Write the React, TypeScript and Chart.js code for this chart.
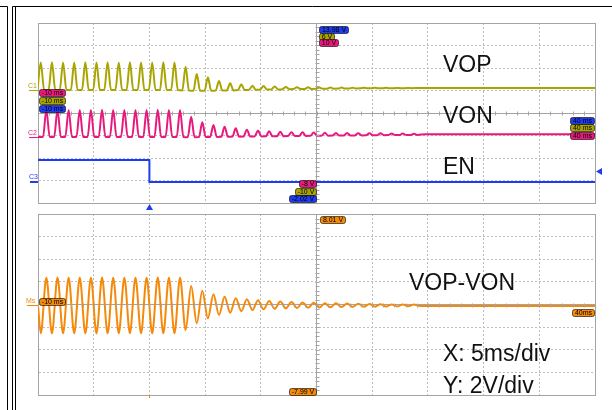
import React, { useEffect, useRef } from "react";
import { Chart, registerables } from "chart.js";

Chart.register(...registerables);

// ---------- axes (time in ms, screen volts at 2 V/div) ----------
const T_MIN = -10;
const T_MAX = 40;
const T_STEP = 5;
const V_MIN = -8;
const V_MAX = 8;
const V_STEP = 2;
const PERIOD_MS = 1.0;
const PULSE_HALF_WIDTH = 0.3; // fraction of a period from baseline to peak

// ---------- C1: VOP pulses (peak / baseline of each cycle) ----------
const vopPeaks = [4.5, 4.52, 4.5, 4.49, 4.51, 4.5, 4.52, 4.5, 4.51, 4.5, 4.49, 4.51, 4.5,
  4.12, 3.47, 3.17, 2.84, 2.64, 2.55, 2.43, 2.4, 2.35, 2.32, 2.3, 2.28, 2.27, 2.26, 2.26, 2.25, 2.25, 2.24, 2.24, 2.23, 2.23];
const vopTroughs = [2.04, 2.04, 2.04, 2.04, 2.04, 2.04, 2.04, 2.04, 2.04, 2.04, 2.04, 2.04, 2.04,
  2.0, 1.97, 1.97, 1.99, 2.01, 2.04, 2.06, 2.08, 2.1, 2.12, 2.13, 2.14, 2.15, 2.16, 2.17, 2.18, 2.19, 2.19, 2.2, 2.2, 2.21];
const VOP_SETTLE = 2.22;

// ---------- C2: VON pulses ----------
const vonPeaks = [0.27, 0.28, 0.27, 0.26, 0.27, 0.28, 0.27, 0.27, 0.26, 0.27, 0.28, 0.27, 0.27,
  -0.33, -0.83, -1.07, -1.22, -1.36, -1.48, -1.56, -1.62, -1.67, -1.7, -1.72, -1.74, -1.76, -1.77, -1.78, -1.79, -1.8, -1.81, -1.82, -1.83, -1.84];
const vonTroughs = [-2.13, -2.13, -2.13, -2.13, -2.13, -2.13, -2.13, -2.13, -2.13, -2.13, -2.13, -2.13, -2.13,
  -2.15, -2.14, -2.13, -2.12, -2.1, -2.09, -2.08, -2.07, -2.06, -2.05, -2.04, -2.03, -2.02, -2.01, -2.0, -1.99, -1.98, -1.97, -1.96, -1.95, -1.95];
const VON_SETTLE = -1.89;

// ---------- C3: EN ----------
const enLevels = [-4.18, -6.13];
const EN_FALL_MS = 0;

// ---------- Math: VOP-VON ----------
const diffPeaks = [2.37, 2.38, 2.37, 2.36, 2.37, 2.38, 2.37, 2.37, 2.36, 2.37, 2.38, 2.37, 2.37,
  1.64, 1.22, 0.9, 0.69, 0.55, 0.46, 0.37, 0.31, 0.26, 0.22, 0.18, 0.15, 0.12, 0.1, 0.08, 0.06, 0.04, 0.02, 0.01, 0.0, -0.01];
const diffTroughs = [-2.55, -2.56, -2.55, -2.54, -2.55, -2.56, -2.55, -2.55, -2.54, -2.55, -2.56, -2.55, -2.55,
  -2.26, -1.66, -1.22, -0.93, -0.72, -0.58, -0.49, -0.43, -0.38, -0.34, -0.31, -0.29, -0.27, -0.25, -0.23, -0.21, -0.2, -0.19, -0.18, -0.17, -0.16];
const DIFF_START = -0.09;
const DIFF_SETTLE = -0.13;

// ---------- texts ----------
const topLabels = ["VOP", "VON", "EN"];
const bottomLabels = ["VOP-VON", "X: 5ms/div", "Y: 2V/div"];
const channelNames = ["C1", "C2", "C3", "Ms"];
const leftTimeTag = "-10 ms";
const rightTimeTag = "40 ms";
const topScaleTags = ["13.98 V", "6 V", "10 V"];
const bottomScaleTags = ["-8 V", "-10 V", "-2.02 V"];
const mathTags = ["8.01 V", "-7.99 V", "40ms", "-10 ms"];

// ---------- colours ----------
const OLIVE = "#aaa400";
const PINK = "#e8197d";
const BLUE = "#1f3cef";
const ORANGE = "#f58a0a";
const GRID_SOLID = "#a4a4a4";
const GRID_DASH = "#bcbcbc";
const FONT = '"Liberation Sans", Arial, sans-serif';

type P = { x: number; y: number };

function pulseTrace(peaks: number[], troughs: number[], phase: number, settle: number): P[] {
  const pts: P[] = [];
  const hw = PULSE_HALF_WIDTH * PERIOD_MS;
  const first = T_MIN + phase + 0.25 * PERIOD_MS - hw;
  if (first > T_MIN) pts.push({ x: T_MIN, y: troughs[0] });
  peaks.forEach((pk, k) => {
    const tp = T_MIN + phase + (k + 0.25) * PERIOD_MS;
    pts.push({ x: tp - hw, y: troughs[k] });
    pts.push({ x: tp, y: pk });
    pts.push({ x: tp + hw, y: troughs[k] });
  });
  pts.push({ x: T_MIN + phase + (peaks.length + 0.25) * PERIOD_MS, y: settle });
  pts.push({ x: T_MAX, y: settle });
  return pts;
}

function sineTrace(peaks: number[], troughs: number[], start: number, settle: number): P[] {
  const pts: P[] = [{ x: T_MIN, y: start }];
  peaks.forEach((pk, k) => {
    const t0 = T_MIN + k * PERIOD_MS;
    pts.push({ x: t0 + 0.25 * PERIOD_MS, y: troughs[k] });
    pts.push({ x: t0 + 0.75 * PERIOD_MS, y: pk });
  });
  pts.push({ x: T_MIN + (peaks.length + 0.25) * PERIOD_MS, y: settle });
  pts.push({ x: T_MAX, y: settle });
  return pts;
}

function enTrace(): P[] {
  return [
    { x: T_MIN, y: enLevels[0] },
    { x: EN_FALL_MS, y: enLevels[0] },
    { x: EN_FALL_MS, y: enLevels[1] },
    { x: T_MAX, y: enLevels[1] },
  ];
}

function axis(min: number, max: number, step: number, center: number) {
  const isMajor = (v: number) => v === min || v === max || v === center;
  return {
    type: "linear",
    min,
    max,
    ticks: { display: false, stepSize: step },
    grid: {
      drawTicks: false,
      lineWidth: 1,
      color: (c: any) => (c.tick && !isMajor(c.tick.value) ? GRID_DASH : GRID_SOLID),
    },
    border: {
      display: true,
      color: GRID_SOLID,
      width: 1,
      dash: (c: any) => (c.type === "tick" && c.tick && !isMajor(c.tick.value) ? [2, 2] : []),
    },
  };
}

function drawTag(ctx: CanvasRenderingContext2D, text: string, x: number, y: number, align: "left" | "right", fill: string, fg: string) {
  ctx.save();
  ctx.font = "7px " + FONT;
  const w = Math.ceil(ctx.measureText(text).width) + 4;
  const h = 7;
  const left = Math.round(align === "left" ? x : x - w);
  const top = Math.round(y);
  ctx.beginPath();
  if ((ctx as any).roundRect) (ctx as any).roundRect(left + 0.5, top + 0.5, w, h, 2);
  else ctx.rect(left + 0.5, top + 0.5, w, h);
  ctx.fillStyle = fill;
  ctx.fill();
  ctx.strokeStyle = "rgba(0,0,0,0.6)";
  ctx.lineWidth = 1;
  ctx.stroke();
  ctx.fillStyle = fg;
  ctx.textAlign = "center";
  ctx.textBaseline = "middle";
  ctx.fillText(text, left + w / 2 + 0.5, top + h / 2 + 1);
  ctx.restore();
}

function centerTicks(ctx: CanvasRenderingContext2D, chart: any) {
  const { chartArea: a, scales } = chart;
  const xs = scales.x, ys = scales.y;
  const cy = Math.round(ys.getPixelForValue(0)) + 0.5;
  const cx = Math.round(xs.getPixelForValue((T_MIN + T_MAX) / 2)) + 0.5;
  ctx.save();
  ctx.strokeStyle = GRID_SOLID;
  ctx.lineWidth = 1;
  ctx.beginPath();
  for (let t = T_MIN; t <= T_MAX; t += T_STEP / 5) {
    const px = Math.round(xs.getPixelForValue(t)) + 0.5;
    ctx.moveTo(px, cy - 2);
    ctx.lineTo(px, cy + 2);
  }
  for (let v = V_MIN; v <= V_MAX + 1e-9; v += V_STEP / 5) {
    const py = Math.round(ys.getPixelForValue(v)) + 0.5;
    ctx.moveTo(cx - 2, py);
    ctx.lineTo(cx + 2, py);
  }
  ctx.stroke();
  ctx.restore();
  return { cx, cy, a };
}

function channelMarker(ctx: CanvasRenderingContext2D, name: string, color: string, left: number, right: number, py: number, width: number) {
  ctx.save();
  ctx.strokeStyle = color;
  ctx.lineWidth = width;
  ctx.beginPath();
  ctx.moveTo(left, py);
  ctx.lineTo(right, py);
  ctx.stroke();
  ctx.fillStyle = color;
  ctx.font = "7px " + FONT;
  ctx.textAlign = "left";
  ctx.textBaseline = "alphabetic";
  ctx.fillText(name, left - 1, py - 3);
  ctx.restore();
}

function bigText(ctx: CanvasRenderingContext2D, text: string, x: number, y: number) {
  ctx.save();
  ctx.fillStyle = "#111";
  ctx.font = "23px " + FONT;
  ctx.textAlign = "left";
  ctx.textBaseline = "alphabetic";
  ctx.fillText(text, x, y);
  ctx.restore();
}

const topPlugin = {
  id: "topDecor",
  afterDraw(chart: any) {
    const ctx: CanvasRenderingContext2D = chart.ctx;
    const { cx, cy, a } = centerTicks(ctx, chart);
    const xs = chart.scales.x, ys = chart.scales.y;

    // outer frame
    ctx.save();
    ctx.strokeStyle = "#000";
    ctx.lineWidth = 1;
    ctx.beginPath();
    ctx.moveTo(0, 6.5); ctx.lineTo(7.5, 6.5); ctx.lineTo(7.5, 410);
    ctx.moveTo(612, 6.5); ctx.lineTo(12.5, 6.5); ctx.lineTo(12.5, 410);
    ctx.moveTo(15.5, 6.5); ctx.lineTo(15.5, 410);
    ctx.stroke();
    ctx.restore();

    // channel ground markers
    const y1 = Math.round(ys.getPixelForValue(vopTroughs[0])) + 0.5;
    const y2 = Math.round(ys.getPixelForValue(vonTroughs[0])) + 0.5;
    const y3 = Math.round(ys.getPixelForValue(enLevels[1]));
    channelMarker(ctx, channelNames[0], OLIVE, a.left - 9, a.left, y1, 1);
    channelMarker(ctx, channelNames[1], PINK, a.left - 9, a.left, y2, 1);
    channelMarker(ctx, channelNames[2], BLUE, a.left - 8, a.left, y3, 2);

    // time tags (left)
    drawTag(ctx, leftTimeTag, a.left + 1, y1 - 1.5, "left", PINK, "#000");
    drawTag(ctx, leftTimeTag, a.left + 1, y1 + 6.5, "left", OLIVE, "#000");
    drawTag(ctx, leftTimeTag, a.left + 1, y1 + 14.5, "left", BLUE, "#000");
    // time tags (right)
    drawTag(ctx, rightTimeTag, a.right - 1, cy + 3, "right", BLUE, "#000");
    drawTag(ctx, rightTimeTag, a.right - 1, cy + 10.5, "right", OLIVE, "#000");
    drawTag(ctx, rightTimeTag, a.right - 1, cy + 18, "right", PINK, "#000");
    // scale tags top
    drawTag(ctx, topScaleTags[0], cx + 1, a.top + 2.5, "left", BLUE, "#000");
    drawTag(ctx, topScaleTags[1], cx + 1, a.top + 9.5, "left", OLIVE, "#000");
    drawTag(ctx, topScaleTags[2], cx + 1, a.top + 16, "left", PINK, "#000");
    // scale tags bottom
    drawTag(ctx, bottomScaleTags[0], cx - 2, a.bottom - 23, "right", PINK, "#000");
    drawTag(ctx, bottomScaleTags[1], cx - 2, a.bottom - 15.5, "right", OLIVE, "#000");
    drawTag(ctx, bottomScaleTags[2], cx - 2, a.bottom - 8, "right", BLUE, "#000");

    // trigger markers
    const tx = Math.round(xs.getPixelForValue(EN_FALL_MS)) + 0.5;
    ctx.save();
    ctx.fillStyle = BLUE;
    ctx.beginPath();
    ctx.moveTo(tx, a.bottom + 1);
    ctx.lineTo(tx + 3.5, a.bottom + 7);
    ctx.lineTo(tx - 3.5, a.bottom + 7);
    ctx.closePath();
    ctx.fill();
    const ly = ys.getPixelForValue(-5.2);
    ctx.beginPath();
    ctx.moveTo(a.right + 1, ly);
    ctx.lineTo(a.right + 7, ly - 3.5);
    ctx.lineTo(a.right + 7, ly + 3.5);
    ctx.closePath();
    ctx.fill();
    ctx.restore();

    // big labels
    const lx = xs.getPixelForValue(26.35);
    bigText(ctx, topLabels[0], lx, ys.getPixelForValue(3.64));
    bigText(ctx, topLabels[1], lx, ys.getPixelForValue(-0.89));
    bigText(ctx, topLabels[2], lx, ys.getPixelForValue(-5.42));
  },
};

const bottomPlugin = {
  id: "bottomDecor",
  afterDraw(chart: any) {
    const ctx: CanvasRenderingContext2D = chart.ctx;
    const { cx, cy, a } = centerTicks(ctx, chart);
    const xs = chart.scales.x, ys = chart.scales.y;

    channelMarker(ctx, channelNames[3], ORANGE, a.left - 11, a.left, Math.round(ys.getPixelForValue(0)) + 0.5, 1);
    drawTag(ctx, mathTags[0], cx + 2, a.top + 2, "left", ORANGE, "#000");
    drawTag(ctx, mathTags[1], cx - 2, a.bottom - 7.5, "right", ORANGE, "#000");
    drawTag(ctx, mathTags[2], a.right - 1, cy + 3, "right", ORANGE, "#000");
    drawTag(ctx, mathTags[3], a.left + 1, cy - 8, "left", ORANGE, "#000");

    const tx = Math.round(xs.getPixelForValue(EN_FALL_MS)) + 0.5;
    ctx.save();
    ctx.strokeStyle = ORANGE;
    ctx.lineWidth = 1;
    ctx.beginPath();
    ctx.moveTo(tx, a.bottom);
    ctx.lineTo(tx, a.bottom + 3);
    ctx.stroke();
    ctx.restore();

    const lx = xs.getPixelForValue(26.35);
    bigText(ctx, bottomLabels[0], xs.getPixelForValue(23.3), ys.getPixelForValue(1.24));
    bigText(ctx, bottomLabels[1], lx, ys.getPixelForValue(-4.96));
    bigText(ctx, bottomLabels[2], lx, ys.getPixelForValue(-7.83));
  },
};

function lineDs(data: P[], color: string, monotone: boolean) {
  return {
    data,
    borderColor: color,
    backgroundColor: color,
    borderWidth: 2,
    pointRadius: 0,
    fill: false,
    tension: monotone ? 0.4 : 0,
    cubicInterpolationMode: monotone ? "monotone" : "default",
  };
}

function makeConfig(datasets: any[], padding: any, plugin: any): any {
  return {
    type: "line",
    data: { datasets },
    options: {
      responsive: false,
      animation: false,
      devicePixelRatio: 1,
      parsing: false,
      normalized: true,
      layout: { padding, autoPadding: false },
      plugins: { legend: { display: false }, tooltip: { enabled: false } },
      events: [],
      scales: {
        x: axis(T_MIN, T_MAX, T_STEP, (T_MIN + T_MAX) / 2),
        y: axis(V_MIN, V_MAX, V_STEP, 0),
      },
    },
    plugins: [plugin],
  };
}

export default function App() {
  const topRef = useRef<HTMLCanvasElement>(null);
  const botRef = useRef<HTMLCanvasElement>(null);

  useEffect(() => {
    const top = new Chart(
      topRef.current as HTMLCanvasElement,
      makeConfig(
        [
          lineDs(enTrace(), BLUE, false),
          lineDs(pulseTrace(vonPeaks, vonTroughs, 0.5 * PERIOD_MS, VON_SETTLE), PINK, true),
          lineDs(pulseTrace(vopPeaks, vopTroughs, 0, VOP_SETTLE), OLIVE, true),
        ],
        { left: 38, right: 17, top: 23, bottom: 207 },
        topPlugin
      )
    );
    const bottom = new Chart(
      botRef.current as HTMLCanvasElement,
      makeConfig(
        [lineDs(sineTrace(diffPeaks, diffTroughs, DIFF_START, DIFF_SETTLE), ORANGE, true)],
        { left: 38, right: 17, top: 214, bottom: 15 },
        bottomPlugin
      )
    );
    return () => {
      top.destroy();
      bottom.destroy();
    };
  }, []);

  const cs: React.CSSProperties = { position: "absolute", left: 0, top: 0, width: 612, height: 410 };
  return (
    <div style={{ position: "fixed", left: 0, top: 0, width: 612, height: 410, background: "#fff", overflow: "hidden" }}>
      <canvas ref={topRef} width={612} height={410} style={cs} />
      <canvas ref={botRef} width={612} height={410} style={cs} />
    </div>
  );
}
